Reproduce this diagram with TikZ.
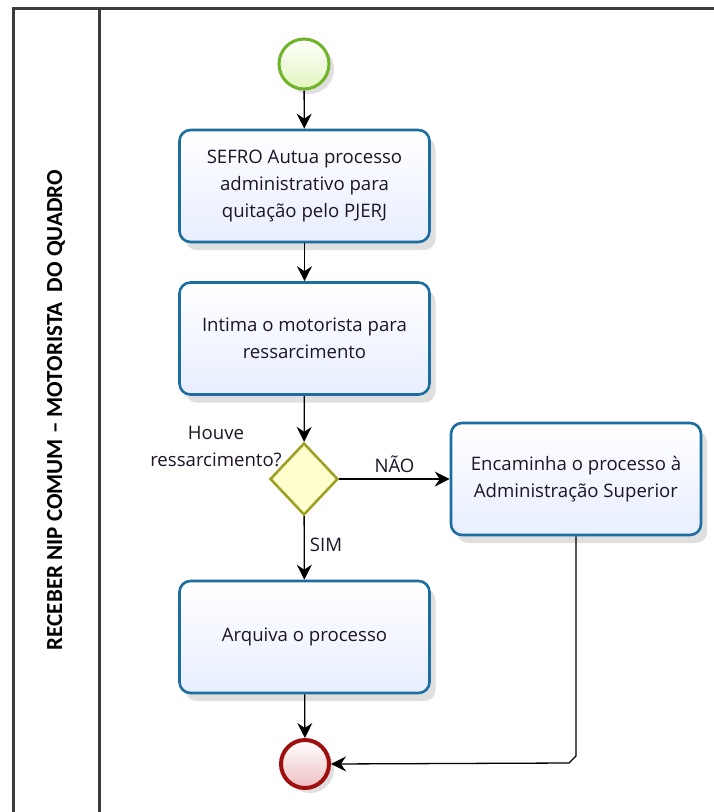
\documentclass[tikz,border=0pt]{standalone}
\usepackage{fontspec}
\setmainfont{Open Sans}
\newfontfamily\titlefont{Carlito}
\usetikzlibrary{arrows.meta,shapes.geometric,shadows}
\definecolor{taskborder}{RGB}{28,110,160}
\definecolor{taskfill}{RGB}{232,238,255}
\definecolor{startborder}{RGB}{110,180,40}
\definecolor{startfill}{RGB}{225,245,190}
\definecolor{endborder}{RGB}{160,15,15}
\definecolor{endfill}{RGB}{238,190,195}
\definecolor{gwborder}{RGB}{160,160,40}
\definecolor{gwfill}{RGB}{255,255,205}
\definecolor{framecol}{RGB}{60,60,60}
\definecolor{txt}{RGB}{30,20,40}
\tikzset{
  framepen/.style={draw=framecol,line width=3pt},
  taskbox/.style={rectangle,rounded corners=11pt,draw=taskborder,line width=2.6pt,
    top color=white,bottom color=taskfill,minimum width=250pt,minimum height=112pt,
    align=center,text=txt,font=\fontsize{18.6}{27}\selectfont,
    drop shadow={shadow xshift=6pt,shadow yshift=-8pt,opacity=0.25}},
  startev/.style={circle,draw=startborder,line width=3pt,inner sep=0pt,minimum size=50pt,
    top color=white,bottom color=startfill,
    drop shadow={shadow xshift=5pt,shadow yshift=-5pt,opacity=0.25}},
  endev/.style={circle,draw=endborder,line width=4pt,inner sep=0pt,minimum size=48pt,
    top color=white,bottom color=endfill,
    drop shadow={shadow xshift=5pt,shadow yshift=-5pt,opacity=0.25}},
  gateway/.style={diamond,draw=gwborder,line width=2.6pt,inner sep=0pt,
    minimum width=68pt,minimum height=72pt,fill=gwfill},
  flow/.style={draw=black,line width=1.3pt,-{Stealth[length=15pt,width=15pt,inset=5pt]}},
  lbl/.style={text=txt,font=\fontsize{18.6}{27}\selectfont,align=center,inner sep=0pt}
}
\begin{document}
\begin{tikzpicture}[x=1pt,y=-1pt]
\useasboundingbox (0,0) rectangle (714,812);
\fill[white] (0,0) rectangle (714,812);
% frame
\draw[framepen] (714,8) -- (13,8) -- (13,812);
\draw[framepen] (99,8) -- (99,812);
\node[rotate=90,font=\titlefont\bfseries\fontsize{23}{26}\selectfont,text=black] (title) at (56,410) {RECEBER NIP COMUM – MOTORISTA\ \ DO QUADRO};
% nodes
\node[startev] (start) at (304,64) {};
\node[taskbox] (t1) at (304.5,186) {SEFRO Autua processo\\administrativo para\\quitação pelo PJERJ};
\node[taskbox] (t2) at (304.5,338.5) {Intima o motorista para\\ressarcimento};
\node[gateway] (gw) at (304,479) {};
\node[taskbox] (t3) at (576,479) {Encaminha o processo à\\Administração Superior};
\node[taskbox] (t4) at (304.5,637) {Arquiva o processo};
\node[endev] (end) at (305,764) {};
\node[lbl] (q) at (216,446) {Houve\\ressarcimento?};
% flows
\draw[flow] (start) -- (t1);
\draw[flow] (t1) -- (t2);
\draw[flow] (t2) -- (gw);
\draw[flow] (gw) -- node[lbl,above=6pt,pos=0.5] (nao) {NÃO} (t3);
\draw[flow] (gw) -- node[lbl,right=5pt,pos=0.45] (sim) {SIM} (t4);
\draw[flow] (t4) -- (end);
\coordinate (c1) at (576,756);
\coordinate (c2) at (569,763);
\draw[flow] (t3.south) -- (c1) -- (c2) -- (end.east);
\end{tikzpicture}
\end{document}
